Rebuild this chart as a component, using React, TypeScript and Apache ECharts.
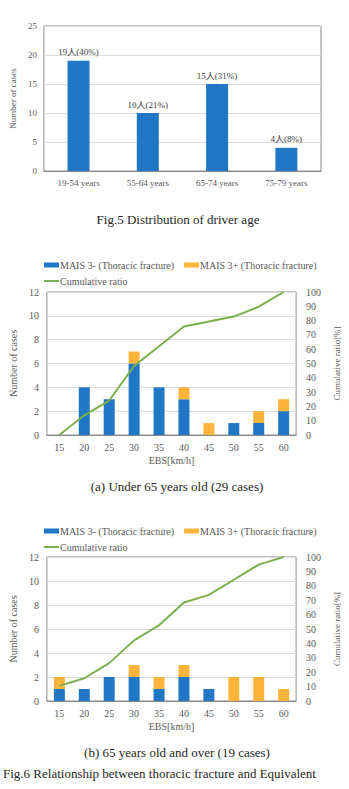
import React, { useEffect, useRef } from "react";
import * as echarts from "echarts";

// Fig.5: driver age distribution
const ageGroups = ["19-54 years", "55-64 years", "65-74 years", "75-79 years"];
const ageCounts = [19, 10, 15, 4];
const agePercents = [40, 21, 31, 8];

// Fig.6: EBS categories (km/h)
const ebsSpeeds = ["15", "20", "25", "30", "35", "40", "45", "50", "55", "60"];

// (a) under 65 years old
const under65Minor = [0, 4, 3, 6, 4, 3, 0, 1, 1, 2];
const under65Severe = [0, 0, 0, 1, 0, 1, 1, 0, 1, 1];
const under65Cumulative = [0, 13.8, 24.1, 48.3, 62.1, 75.9, 79.3, 82.8, 89.7, 100];

// (b) 65 years old and over
const over65Minor = [1, 1, 2, 2, 1, 2, 1, 0, 0, 0];
const over65Severe = [1, 0, 0, 1, 1, 1, 0, 2, 2, 1];
const over65Cumulative = [10.5, 15.8, 26.3, 42.1, 52.6, 68.4, 73.7, 84.2, 94.7, 100];

const MINOR = "MAIS 3- (Thoracic fracture)";
const SEVERE = "MAIS 3+ (Thoracic fracture)";
const CUMULATIVE = "Cumulative ratio";

const FONT = "'Liberation Serif', 'Times New Roman', 'Noto Sans CJK JP', serif";
const BLUE = "#1f77c6";
const ORANGE = "#fdb43a";
const GREEN = "#7aaf4e";
const AXIS_TEXT = "#595959";
const GRID_LINE = "#dcdcdc";
const BORDER = "#8a8a8a";

function caption(text: string, x: number, y: number, align: string = "center") {
  return {
    type: "text",
    x,
    y,
    style: {
      text,
      fontFamily: FONT,
      fontSize: 13,
      fill: "#262626",
      align,
      verticalAlign: "middle",
    },
  };
}

const legendText = {
  fontFamily: FONT,
  fontSize: 10,
  color: AXIS_TEXT,
  padding: [0, 0, 0, -4],
};

function legendPair(top: number) {
  return [
    {
      top,
      left: 44,
      padding: 0,
      itemGap: 10,
      itemWidth: 15,
      itemHeight: 5,
      icon: "rect",
      data: [MINOR, SEVERE],
      textStyle: legendText,
    },
    {
      top: top + 16,
      left: 44,
      padding: 0,
      itemWidth: 15,
      itemHeight: 2,
      icon: "rect",
      data: [CUMULATIVE],
      textStyle: legendText,
    },
  ];
}

function ebsXAxis(gridIndex: number) {
  return {
    type: "category",
    gridIndex,
    data: ebsSpeeds,
    name: "EBS[km/h]",
    nameLocation: "middle",
    nameGap: 20,
    nameTextStyle: { fontFamily: FONT, fontSize: 10, color: AXIS_TEXT },
    axisLine: { lineStyle: { color: BORDER } },
    axisTick: { show: false },
    axisLabel: { fontFamily: FONT, fontSize: 10, color: AXIS_TEXT, margin: 7 },
  };
}

function countYAxis(gridIndex: number) {
  return {
    type: "value",
    gridIndex,
    min: 0,
    max: 12,
    interval: 2,
    name: "Number of cases",
    nameLocation: "middle",
    nameGap: 23,
    nameRotate: 90,
    nameTextStyle: { fontFamily: FONT, fontSize: 10, color: AXIS_TEXT },
    axisLine: { show: false },
    axisTick: { show: false },
    axisLabel: { fontFamily: FONT, fontSize: 10, color: AXIS_TEXT, margin: 8 },
    splitLine: { lineStyle: { color: GRID_LINE } },
  };
}

function ratioYAxis(gridIndex: number) {
  return {
    type: "value",
    gridIndex,
    position: "right",
    min: 0,
    max: 100,
    interval: 10,
    name: "Cumulative ratio[%]",
    nameLocation: "middle",
    nameGap: 26,
    nameRotate: 90,
    nameTextStyle: { fontFamily: FONT, fontSize: 9, color: AXIS_TEXT },
    axisLine: { show: false },
    axisTick: { show: false },
    axisLabel: { fontFamily: FONT, fontSize: 10, color: AXIS_TEXT, margin: 10 },
    splitLine: { show: false },
  };
}

function fig6Series(
  xAxisIndex: number,
  countAxis: number,
  ratioAxis: number,
  stack: string,
  minor: number[],
  severe: number[],
  cumulative: number[]
) {
  return [
    {
      name: MINOR,
      type: "bar",
      stack,
      xAxisIndex,
      yAxisIndex: countAxis,
      barWidth: 11,
      data: minor,
      itemStyle: { color: BLUE },
    },
    {
      name: SEVERE,
      type: "bar",
      stack,
      xAxisIndex,
      yAxisIndex: countAxis,
      barWidth: 11,
      data: severe,
      itemStyle: { color: ORANGE },
    },
    {
      name: CUMULATIVE,
      type: "line",
      xAxisIndex,
      yAxisIndex: ratioAxis,
      data: cumulative,
      symbol: "none",
      lineStyle: { color: GREEN, width: 2 },
      itemStyle: { color: GREEN },
    },
  ];
}

export default function App() {
  const ref = useRef<HTMLDivElement>(null);

  useEffect(() => {
    if (!ref.current) return;
    const chart = echarts.init(ref.current, undefined, { renderer: "svg" });

    const gridBox = { show: true, borderColor: BORDER, borderWidth: 1, backgroundColor: "transparent" };

    chart.setOption({
      animation: false,
      backgroundColor: "#ffffff",
      textStyle: { fontFamily: FONT },
      grid: [
        { left: 35, top: 26, width: 286, height: 145, ...gridBox },
        { left: 38, top: 292, width: 274, height: 143, ...gridBox },
        { left: 38, top: 557, width: 274, height: 144, ...gridBox },
      ],
      legend: [...legendPair(260), ...legendPair(526)],
      xAxis: [
        {
          type: "category",
          gridIndex: 0,
          data: ageGroups,
          axisLine: { lineStyle: { color: BORDER } },
          axisTick: { show: false },
          axisLabel: { fontFamily: FONT, fontSize: 9, color: AXIS_TEXT, margin: 7 },
        },
        ebsXAxis(1),
        ebsXAxis(2),
      ],
      yAxis: [
        {
          type: "value",
          gridIndex: 0,
          min: 0,
          max: 25,
          interval: 5,
          name: "Number of cases",
          nameLocation: "middle",
          nameGap: 19,
          nameRotate: 90,
          nameTextStyle: { fontFamily: FONT, fontSize: 9, color: AXIS_TEXT },
          axisLine: { show: false },
          axisTick: { show: false },
          axisLabel: { fontFamily: FONT, fontSize: 9, color: AXIS_TEXT, margin: 7 },
          splitLine: { lineStyle: { color: GRID_LINE } },
        },
        countYAxis(1),
        ratioYAxis(1),
        countYAxis(2),
        ratioYAxis(2),
      ],
      series: [
        {
          name: "Number of cases",
          type: "bar",
          xAxisIndex: 0,
          yAxisIndex: 0,
          barWidth: 22,
          data: ageCounts,
          itemStyle: { color: BLUE },
          label: {
            show: true,
            position: "top",
            distance: 4,
            fontFamily: FONT,
            fontSize: 9,
            color: "#404040",
            formatter: (p: any) => `${ageCounts[p.dataIndex]}人(${agePercents[p.dataIndex]}%)`,
          },
        },
        ...fig6Series(1, 1, 2, "under65", under65Minor, under65Severe, under65Cumulative),
        ...fig6Series(2, 3, 4, "over65", over65Minor, over65Severe, over65Cumulative),
      ],
      graphic: [
        caption("Fig.5 Distribution of driver age", 178, 219),
        caption("(a) Under 65 years old (29 cases)", 177, 486),
        caption("(b) 65 years old and over (19 cases)", 177, 752),
        caption("Fig.6 Relationship between thoracic fracture and Equivalent", 3, 773, "left"),
      ],
    });

    return () => chart.dispose();
  }, []);

  return (
    <div
      ref={ref}
      style={{ position: "absolute", left: 0, top: 0, width: 349, height: 789 }}
    />
  );
}
